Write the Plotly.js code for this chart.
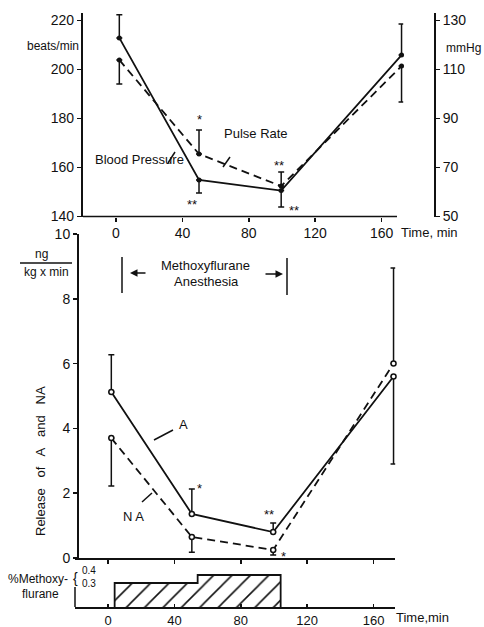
<!DOCTYPE html>
<html><head><meta charset="utf-8">
<script src="https://cdn.plot.ly/plotly-3.0.1.min.js"></script>
<style>html,body{margin:0;padding:0;background:#fff}#chart{width:484px;height:627px}</style>
</head><body><div id="chart"></div>
<script>
// ---- data ----
const timeTicks = [0, 40, 80, 120, 160];
const timeTickText = ['0', '40', '80', '120', '160'];
const tTop = [2, 50, 99.5, 172];
const pulseRate = [203.9, 165.5, 152.4, 201.4];      // beats/min
const pulsePlus = [0, 9.8, 5.8, 0];
const pulseMinus = [9.8, 0, 0, 14.7];
const bloodPressure = [122.9, 64.9, 60.6, 115.9];    // mmHg
const bpPlus = [9.4, 0, 0, 12.7];
const bpMinus = [0, 5.3, 6.7, 0];
const tMid = [2, 50.5, 99.5, 172];
const releaseA = [5.12, 1.36, 0.80, 5.6];           // ng/(kg x min)
const aPlus = [1.15, 0.77, 0.28, 0];
const aMinus = [0, 0, 0, 2.7];
const releaseNA = [3.70, 0.65, 0.25, 6.0];
const naPlus = [0, 0, 0, 2.95];
const naMinus = [1.48, 0.47, 0.16, 0];
const anesTime = [4, 4, 54, 104, 104];
const anesConc = [0, 0.3, 0.4, 0.4, 0];
const pulseTicks = [140, 160, 180, 200, 220];
const bpTicks = [50, 70, 90, 110, 130];
const releaseTicks = [0, 2, 4, 6, 8, 10];
const concTickText = ['0.4', '0.3'];

// ---- helpers (layout positions only) ----
const W = 484, H = 627;
const P = x => x / W;
const Q = y => 1 - y / H;
const FONT = 'Liberation Sans, Arial, sans-serif';
const black = '#111';

const axisBase = {
  showgrid: false, zeroline: false, showline: true, linewidth: 2, linecolor: black,
  ticks: 'outside', ticklen: 4, tickwidth: 1.5, tickcolor: black,
  tickfont: {family: FONT, size: 14, color: black}, fixedrange: true
};
const eb = (plus, minus) => ({type: 'data', symmetric: false, array: plus, arrayminus: minus,
  color: black, thickness: 1.5, width: 3});

const traces = [
  {x: tTop, y: pulseRate, xaxis: 'x', yaxis: 'y', mode: 'lines+markers', cliponaxis: false,
   line: {color: black, width: 1.8, dash: '8px,5px'}, marker: {size: 5, color: black},
   error_y: eb(pulsePlus, pulseMinus), name: 'Pulse Rate'},
  {x: tTop, y: bloodPressure, xaxis: 'x', yaxis: 'y2', mode: 'lines+markers', cliponaxis: false,
   line: {color: black, width: 1.8}, marker: {size: 5, color: black},
   error_y: eb(bpPlus, bpMinus), name: 'Blood Pressure'},
  {x: tMid, y: releaseA, xaxis: 'x2', yaxis: 'y3', mode: 'lines+markers', cliponaxis: false,
   line: {color: black, width: 1.8}, marker: {size: 5, color: 'white', line: {color: black, width: 1.5}},
   error_y: eb(aPlus, aMinus), name: 'A'},
  {x: tMid, y: releaseNA, xaxis: 'x2', yaxis: 'y3', mode: 'lines+markers', cliponaxis: false,
   line: {color: black, width: 1.8, dash: '8px,5px'}, marker: {size: 5, color: 'white', line: {color: black, width: 1.5}},
   error_y: eb(naPlus, naMinus), name: 'NA'},
  {x: anesTime, y: anesConc, xaxis: 'x3', yaxis: 'y4', mode: 'lines', fill: 'tozeroy',
   line: {color: black, width: 1.8, shape: 'hv'}, fillcolor: 'white',
   fillpattern: {shape: '/', fgcolor: black, bgcolor: 'white', size: 13, solidity: 0.12},
   name: '% Methoxyflurane'}
];

const ann = (x, y, text, extra) => Object.assign({xref: 'paper', yref: 'paper', x: P(x), y: Q(y), text: text,
  showarrow: false, font: {family: FONT, size: 13, color: black}, xanchor: 'center', yanchor: 'middle'}, extra || {});
const star = (xr, yr, x, y, text) => ({xref: xr, yref: yr, x: x, y: y, text: text, showarrow: false,
  font: {family: FONT, size: 13, color: black}, yshift: -3});
const arrow = (x, y, ax) => ({xref: 'paper', yref: 'paper', x: P(x), y: Q(y), text: '', showarrow: true,
  ax: ax, ay: 0, arrowhead: 2, arrowsize: 1, arrowwidth: 1.5, arrowcolor: black, standoff: 0, startstandoff: 0});
const seg = (x0, y0, x1, y1) => ({type: 'line', xref: 'paper', yref: 'paper', x0: P(x0), y0: Q(y0), x1: P(x1), y1: Q(y1),
  line: {color: black, width: 1.5}});

const layout = {
  width: W, height: H, margin: {l: 0, r: 0, t: 0, b: 0}, showlegend: false,
  paper_bgcolor: 'white', plot_bgcolor: 'rgba(0,0,0,0)',
  font: {family: FONT, color: black},
  xaxis: Object.assign({}, axisBase, {domain: [P(82.8), P(403.2)], range: [-20, 173], anchor: 'y',
    showline: false, tickvals: timeTicks, ticktext: timeTickText}),
  yaxis: Object.assign({}, axisBase, {domain: [Q(216.5), Q(13)], range: [140, 223.06], anchor: 'x',
    tickvals: pulseTicks}),
  yaxis2: Object.assign({}, axisBase, {range: [50, 133.06], overlaying: 'y', side: 'right', anchor: 'free',
    position: P(435), tickvals: bpTicks}),
  xaxis2: Object.assign({}, axisBase, {domain: [P(74.8), P(395.2)], range: [-20, 173], anchor: 'y3',
    tickvals: timeTicks, showticklabels: false}),
  yaxis3: Object.assign({}, axisBase, {domain: [Q(558), Q(234)], range: [0, 10], anchor: 'free',
    position: P(78), tickvals: releaseTicks}),
  xaxis3: Object.assign({}, axisBase, {domain: [P(74.8), P(395.2)], range: [-20, 173], anchor: 'y4',
    ticks: 'inside', ticklen: 3, tickvals: timeTicks, ticktext: timeTickText,
    tickfont: {family: FONT, size: 13, color: black}}),
  yaxis4: Object.assign({}, axisBase, {domain: [Q(607), Q(567)], range: [0, 0.5], anchor: 'x3',
    showline: false, ticks: '', showticklabels: false}),
  shapes: [
    seg(83, 216.5, 397, 216.5),            // top time axis line
    seg(168, 163, 175, 152),               // Blood Pressure leader
    seg(223, 167, 230, 157),               // Pulse Rate leader
    seg(154, 440, 173, 430),               // A leader
    seg(142, 502, 152, 493),               // NA leader
    seg(122, 257, 122, 293),               // anesthesia start bar
    seg(287, 258, 287, 295),               // anesthesia end bar
    seg(20, 263, 72, 263),                 // ng / kg x min fraction bar
    seg(75, 587, 75, 607)                  // % methoxyflurane axis stub
  ],
  annotations: [
    ann(53, 46, 'beats/min', {font: {family: FONT, size: 12, color: black}}),
    ann(463, 48, 'mmHg', {font: {family: FONT, size: 12, color: black}}),
    ann(139, 159, 'Blood Pressure'),
    ann(256, 133, 'Pulse Rate'),
    ann(399, 232, 'Time, min', {xanchor: 'left'}),
    ann(205, 265, 'Methoxyflurane'),
    ann(206, 281, 'Anesthesia'),
    arrow(130, 273, 17),
    arrow(283, 274, -19),
    ann(41, 254, 'ng', {font: {family: FONT, size: 12, color: black}}),
    ann(46, 272, 'kg x min', {font: {family: FONT, size: 12, color: black}}),
    ann(40, 461, 'Release\u00a0\u00a0 of\u00a0\u00a0 A\u00a0\u00a0 and\u00a0\u00a0 NA', {textangle: -90}),
    ann(183, 424, 'A'),
    ann(133, 516, 'N A'),
    ann(70, 579, '%Methoxy-', {xanchor: 'right', font: {family: FONT, size: 12, color: black}}),
    ann(75, 578, '{', {font: {family: FONT, size: 14, color: black}}),
    ann(80, 570, concTickText[0], {xanchor: 'left', font: {family: FONT, size: 10, color: black}}),
    ann(80, 583, concTickText[1], {xanchor: 'left', font: {family: FONT, size: 10, color: black}}),
    ann(40, 594, 'flurane', {font: {family: FONT, size: 12, color: black}}),
    ann(394, 617, 'Time,min', {xanchor: 'left'}),
    star('x', 'y', 50.5, 181, '*'),
    star('x', 'y', 46, 146, '**'),
    star('x', 'y', 98, 162, '**'),
    star('x', 'y', 107, 143.5, '**'),
    star('x2', 'y3', 55, 2.25, '*'),
    star('x2', 'y3', 97, 1.42, '**'),
    star('x2', 'y3', 105.5, 0.15, '*')
  ]
};

Plotly.newPlot('chart', traces, layout, {displayModeBar: false, staticPlot: true});
</script>
</body></html>
